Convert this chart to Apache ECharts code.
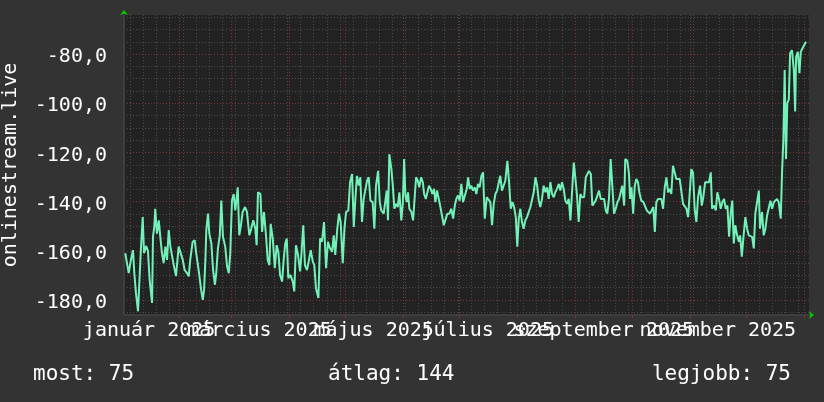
<!DOCTYPE html>
<html>
<head>
<meta charset="utf-8">
<script src="https://cdn.jsdelivr.net/npm/echarts@6/dist/echarts.min.js"></script>
<style>
  html, body { margin: 0; padding: 0; background: #333333; }
  #signal_chart { width: 824px; height: 402px; }
</style>
</head>
<body>
<div id="signal_chart"></div>
<script>
// napok 2025-01-01 óta, jelszint
const signal = [
  [2.3,-161.0],[3.2,-161.7],[4.1,-169.1],[5.3,-163.7],[6.4,-159.7],[7.1,-169.0],[8.0,-177.2],[9.1,-184.6],[9.8,-173.0],[10.7,-158.3],
  [11.6,-146.3],[12.3,-161.0],[13.4,-158.0],[14.4,-160.0],[15.3,-171.8],[16.6,-181.2],[17.1,-154.2],[17.8,-150.2],[18.3,-142.9],[19.2,-153.0],
  [20.2,-147.6],[21.0,-154.3],[21.9,-161.0],[22.8,-165.0],[23.7,-158.3],[24.6,-163.7],[25.5,-151.6],[26.4,-158.3],[27.3,-159.0],[28.2,-165.8],
  [29.4,-170.3],[30.8,-158.3],[31.7,-159.0],[33.0,-163.7],[34.0,-167.8],[35.3,-169.1],[36.2,-170.4],[37.0,-163.7],[38.3,-156.3],[39.4,-155.7],
  [40.2,-161.0],[41.5,-167.8],[42.8,-175.8],[43.7,-179.9],[44.4,-175.8],[45.1,-163.7],[45.6,-151.6],[46.5,-144.9],[47.2,-153.0],[48.3,-157.0],
  [49.2,-167.8],[50.2,-173.8],[50.9,-169.1],[51.8,-159.0],[52.8,-153.7],[53.6,-139.6],[54.5,-154.3],[55.7,-158.3],[56.7,-166.4],[57.6,-169.1],
  [58.4,-161.0],[59.3,-139.6],[60.2,-136.9],[61.1,-143.6],
  [62.4,-134.2],[63.2,-153.7],[64.1,-149.6],[65.0,-144.2],[66.3,-142.2],[67.3,-144.2],[68.6,-153.7],[69.6,-151.0],[70.7,-147.6],[71.8,-151.0],
  [72.5,-157.7],[73.2,-136.2],[74.5,-136.9],[75.4,-152.3],[76.4,-144.2],[77.5,-153.7],[78.4,-163.7],[79.3,-165.8],[80.0,-149.0],[81.1,-155.0],
  [82.2,-167.1],[83.2,-157.7],[84.1,-160.4],[85.0,-169.8],[86.1,-172.5],[87.0,-163.1],[87.8,-157.0],[88.6,-155.0],[89.4,-171.1],[90.5,-169.8],
  [91.8,-172.5],[92.6,-176.5],[93.5,-157.7],[94.6,-161.7],[95.7,-168.4],[96.4,-161.7],[97.4,-149.6],[98.3,-165.8],[99.4,-167.8],[100.3,-164.4],
  [101.4,-159.7],[102.5,-164.4],[103.3,-165.8],[104.2,-175.2],[105.5,-179.2],[106.4,-155.0],[107.4,-156.3],[108.5,-148.3],[109.6,-167.1],[110.6,-156.3],
  [111.7,-159.0],[112.8,-160.4],[113.7,-153.7],[114.5,-161.7],[115.6,-151.0],[116.5,-144.9],[117.4,-148.3],[118.5,-165.0],[119.4,-151.0],[120.3,-144.2],
  [121.5,-143.6],[122.4,-132.1],
  [123.5,-128.8],[124.4,-150.3],[125.2,-139.6],[126.1,-129.5],[127.1,-133.5],[127.9,-130.1],[128.8,-148.3],[129.7,-138.9],[130.6,-138.2],[131.5,-131.5],
  [132.4,-130.1],[133.3,-139.6],[134.5,-140.2],[135.4,-151.0],[136.3,-133.5],[137.4,-127.5],[138.3,-140.2],[139.1,-143.6],[140.4,-144.9],[141.3,-145.6],
  [142.0,-135.5],[142.7,-147.6],[143.4,-120.7],[144.5,-126.8],[145.2,-132.8],[146.1,-142.9],[147.0,-140.9],[147.9,-142.2],[148.8,-136.2],[149.8,-147.6],
  [150.6,-140.9],[151.3,-122.7],[152.0,-137.5],[152.7,-140.2],[153.4,-136.2],[154.1,-142.9],[155.2,-144.2],[156.1,-147.6],[157.0,-148.3],[157.7,-130.1],
  [158.6,-131.5],[159.4,-134.2],[160.4,-130.1],[161.3,-132.1],[162.0,-136.9],[162.9,-138.9],[163.7,-139.6],[164.6,-133.5],[165.5,-134.8],[166.4,-136.9],
  [167.3,-134.8],[168.0,-140.2],[168.9,-135.5],[169.8,-134.8],[170.7,-142.2],[171.6,-141.6],[172.5,-149.6],[173.6,-146.9],[174.4,-144.9],[175.5,-144.9],
  [176.5,-142.9],[177.5,-146.9],[178.4,-141.6],[179.2,-138.9],[180.1,-137.5],[181.0,-139.6],[181.9,-132.8],[182.8,-140.2],[183.7,-140.2],[184.8,-134.8],
  [185.5,-130.1],[186.4,-134.8],[187.2,-133.5],[188.1,-135.5],[189.1,-134.2],[189.9,-136.9],[190.8,-132.8],[191.7,-134.2],[192.6,-129.5],[193.5,-128.1],
  [194.4,-146.9],[195.5,-138.2],[196.5,-138.9],[197.4,-140.2],[198.3,-149.6],[199.2,-140.9],[200.1,-136.9],[201.0,-135.5],[201.9,-135.5],[202.7,-129.5],
  [203.6,-135.5],[204.6,-136.2],[205.4,-131.5],[206.5,-123.4],[207.4,-132.1],[208.3,-142.9],[209.2,-140.2],[210.1,-142.2],[211.0,-146.3],[211.8,-158.3],
  [212.6,-146.9],[213.4,-142.9],[214.3,-148.3],[215.2,-151.0],[216.1,-147.6],[217.0,-146.3],[217.9,-146.9],[218.8,-142.2],[219.7,-141.6],[220.6,-136.2],
  [221.5,-130.1],[222.4,-133.5],[223.3,-139.6],[224.1,-142.2],[225.0,-138.9],[225.9,-133.5],[226.8,-136.2],[227.7,-134.2],[228.6,-138.9],[229.5,-132.1],
  [230.4,-136.9],[231.3,-138.2],[232.1,-136.2],[233.0,-134.8],[234.0,-132.8],[234.8,-135.5],[235.7,-132.1],[236.6,-134.8],[237.5,-139.6],[238.4,-140.9],
  [239.3,-138.9],[240.2,-147.6],[241.1,-135.5],[242.0,-124.1],[242.8,-130.1],[243.7,-137.5],[244.6,-148.3],[245.5,-136.9],[246.4,-138.2],
  [247.5,-138.2],[248.4,-130.1],[249.2,-130.8],[250.1,-127.5],[251.1,-128.8],[251.9,-141.6],[252.8,-140.9],[253.7,-139.6],[254.6,-138.9],[255.5,-135.5],
  [256.4,-138.9],[257.3,-139.6],[258.2,-138.9],[259.1,-143.6],[259.9,-144.9],[260.8,-138.9],[261.7,-122.7],[262.6,-122.1],[263.5,-144.9],[264.4,-142.9],
  [265.3,-140.2],[266.2,-138.9],[267.1,-138.9],[267.9,-133.5],[268.9,-141.6],[269.5,-122.7],[270.6,-123.4],[271.5,-128.8],[272.1,-138.9],[272.8,-134.2],
  [273.7,-144.9],[274.6,-133.5],[275.4,-130.8],[276.3,-132.1],[277.0,-136.2],[278.1,-139.6],[279.2,-140.2],[280.1,-140.9],[281.0,-143.6],[281.8,-142.9],
  [282.8,-144.9],[283.7,-145.6],[284.5,-142.2],[285.3,-152.3],[286.1,-140.2],[287.0,-138.9],[287.9,-139.6],[288.8,-138.9],[289.7,-142.9],[290.6,-134.2],
  [291.5,-130.1],[292.4,-136.2],[293.3,-134.8],[294.1,-136.9],[295.0,-125.4],[296.0,-124.8],[296.8,-130.8],[297.7,-130.8],[298.6,-130.8],[299.5,-131.5],
  [300.4,-140.9],[301.3,-140.9],[302.2,-142.9],[303.1,-146.3],[304.0,-145.6],[304.8,-126.8],[305.7,-128.1],[306.6,-142.9],[307.5,-148.3],[308.4,-138.2],
  [309.5,-133.5],
  [310.4,-141.6],[311.2,-138.2],[312.2,-132.1],[313.1,-132.8],[314.3,-132.1],[315.2,-128.1],[315.9,-142.9],[317.0,-141.6],[317.9,-143.6],[318.7,-136.2],
  [319.6,-138.9],[320.5,-142.9],[321.4,-140.2],[322.3,-138.9],[323.2,-142.9],[324.1,-141.6],[325.0,-154.3],[325.9,-144.2],[326.7,-139.6],[327.5,-157.0],
  [328.3,-149.6],[329.3,-153.7],[330.2,-156.3],[330.9,-153.7],[331.8,-162.4],[332.6,-155.0],[333.7,-146.3],[334.6,-151.0],[335.5,-153.7],[336.4,-154.3],
  [337.3,-154.3],[338.2,-159.0],[339.0,-144.9],[339.9,-144.2],[340.9,-135.5],[341.5,-151.0],[342.6,-144.2],[343.5,-153.7],[344.4,-151.0],[345.3,-145.6],
  [346.2,-144.9],[347.1,-139.6],[348.0,-142.9],[348.9,-140.2],[349.7,-140.2],[350.6,-138.9],[351.5,-140.2],[352.6,-146.9],[353.3,-128.1],[354.0,-114.7],
  [354.7,-86.5],[355.4,-122.7],[356.1,-99.9],[356.9,-98.5],[357.6,-79.7],[358.6,-78.4],[359.6,-86.5],[360.3,-103.3],[360.8,-81.1],[361.7,-79.1],
  [362.6,-87.8],[363.3,-79.1],[364.2,-77.7],[365.1,-76.4],[366.1,-75.0],
];

// tengely: hónapok kezdete, címkék (hónap + 15 nap), hétfők
const monthStarts = [31, 59, 90, 120, 151, 181, 212, 243, 273, 304, 334, 365];
const monthLabelDays = [15, 74, 135, 196, 258, 319];
const monthLabels = ["január 2025", "március 2025", "május 2025", "július 2025", "szeptember 2025", "november 2025"];
const yTicks = [-180, -160, -140, -120, -100, -80];

const summaryTexts = ["most: 75", "átlag: 144", "legjobb: 75"];
const seriesName = "onlinestream.live";

const X_MIN = 1.6;
const X_MAX = 367.7;
const Y_MIN = -186.1;
const Y_MAX = -64.1;

let mondays = [];
for (let d = 5; d <= X_MAX; d += 7) mondays.push(d);
let yMinor = [];
for (let v = -185; v <= -65; v += 5) yMinor.push(v);

const FONT = "DejaVu Sans Mono";
const minorGrid = { color: "#4a4a4a", type: [1, 2], width: 1 };
const majorGrid = { color: "#7a3434", type: [1, 2], width: 1 };

// a címkék egymásra lógnak, ezért két tengelyre osztva (egyik sem rejti el a másikat)
function labelAxis(values) {
  return {
    type: "value",
    min: X_MIN,
    max: X_MAX,
    z: 2,
    position: "bottom",
    axisLine: { show: false },
    axisTick: { show: false },
    splitLine: { show: false },
    axisLabel: {
      show: true,
      customValues: values,
      hideOverlap: false,
      margin: 6,
      color: "#ffffff",
      fontFamily: FONT,
      fontSize: 20,
      formatter: (v) => monthLabels[monthLabelDays.indexOf(v)],
    },
  };
}

const chartInstance = echarts.init(document.getElementById("signal_chart"), null, { renderer: "canvas" });

const initOption = {
  animation: false,
  backgroundColor: "#333333",
  grid: {
    left: 124,
    right: 15,
    top: 15,
    bottom: 87,
    containLabel: false,
    outerBoundsMode: "none",
    show: true,
    backgroundColor: "#222222",
    borderWidth: 0,
  },
  xAxis: [
    {
      type: "value",
      min: X_MIN,
      max: X_MAX,
      z: 1,
      axisLine: {
        show: true,
        lineStyle: { color: "#3e3e3e", width: 2 },
      },
      axisTick: { show: true, length: 3, customValues: monthStarts, lineStyle: { color: "#7a3434" } },
      splitLine: { show: true, lineStyle: majorGrid },
      axisLabel: { show: false },
    },
    {
      type: "value",
      min: X_MIN,
      max: X_MAX,
      z: 0,
      position: "bottom",
      axisLine: { show: false },
      axisTick: { show: false, customValues: mondays },
      axisLabel: { show: false },
      splitLine: { show: true, lineStyle: minorGrid },
    },
    {
      // zöld nyíl a vízszintes tengely végén
      type: "value",
      min: X_MIN,
      max: X_MAX,
      z: 3,
      position: "bottom",
      axisLine: {
        show: true,
        symbol: ["none", "arrow"],
        symbolSize: [6, 5],
        symbolOffset: [0, 5],
        lineStyle: { color: "#00cc00", width: 0 },
      },
      axisTick: { show: false },
      axisLabel: { show: false },
      splitLine: { show: false },
    },
    labelAxis([monthLabelDays[0], monthLabelDays[2], monthLabelDays[4]]),
    labelAxis([monthLabelDays[1], monthLabelDays[3], monthLabelDays[5]]),
  ],
  yAxis: [
    {
      type: "value",
      min: Y_MIN,
      max: Y_MAX,
      z: 1,
      name: seriesName,
      nameLocation: "middle",
      nameRotate: 90,
      nameGap: 103,
      nameMoveOverlap: false,
      nameTextStyle: { color: "#ffffff", fontFamily: FONT, fontSize: 20 },
      axisLine: {
        show: true,
        lineStyle: { color: "#3e3e3e", width: 2 },
      },
      axisTick: { show: false, customValues: yTicks },
      splitLine: { show: true, lineStyle: majorGrid },
      axisLabel: {
        show: true,
        customValues: yTicks,
        hideOverlap: false,
        margin: 17,
        verticalAlign: "top",
        lineHeight: 6,
        color: "#ffffff",
        fontFamily: FONT,
        fontSize: 20,
        formatter: (v) => v.toFixed(1).replace(".", ","),
      },
    },
    {
      type: "value",
      min: Y_MIN,
      max: Y_MAX,
      z: 0,
      position: "left",
      axisLine: { show: false },
      axisTick: { show: false, customValues: yMinor },
      axisLabel: { show: false },
      splitLine: { show: true, lineStyle: minorGrid },
    },
    {
      // zöld nyíl a függőleges tengely tetején
      type: "value",
      min: Y_MIN,
      max: Y_MAX,
      z: 3,
      position: "left",
      axisLine: {
        show: true,
        symbol: ["none", "arrow"],
        symbolSize: [6, 5],
        symbolOffset: [0, 5],
        lineStyle: { color: "#00cc00", width: 0 },
      },
      axisTick: { show: false },
      axisLabel: { show: false },
      splitLine: { show: false },
    },
  ],
  graphic: [
    {
      type: "text",
      left: 33,
      top: 364,
      style: { text: summaryTexts[0], font: "21px " + FONT, fill: "#ffffff" },
    },
    {
      type: "text",
      left: 328,
      top: 364,
      style: { text: summaryTexts[1], font: "21px " + FONT, fill: "#ffffff" },
    },
    {
      type: "text",
      right: 33,
      top: 364,
      style: { text: summaryTexts[2], font: "21px " + FONT, fill: "#ffffff" },
    },
  ],
  series: [
    {
      name: seriesName,
      type: "line",
      xAxisIndex: 0,
      yAxisIndex: 0,
      showSymbol: false,
      z: 5,
      lineStyle: { color: "#72f2b8", width: 2 },
      data: signal,
    },
  ],
};

chartInstance.setOption(initOption);
</script>
</body>
</html>
